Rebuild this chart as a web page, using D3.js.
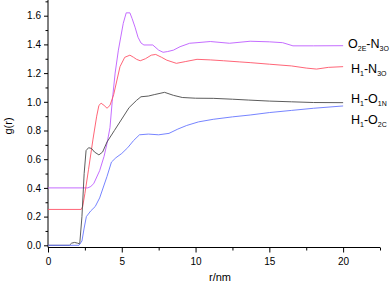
<!DOCTYPE html>
<html>
<head>
<meta charset="utf-8">
<script src="https://cdn.jsdelivr.net/npm/d3@7"></script>
<style>
  body { margin: 0; background: #fff; }
  svg { display: block; font-family: Arial, "Liberation Sans", sans-serif; }
</style>
</head>
<body>
<div id="display"><svg width="392" height="283"></svg></div>
<script>
// g(r) curves as [r, g] pairs
var h1O1N = [[0,0],[1.45,0],[1.6,0.015],[1.8,0.02],[2.0,0.015],[2.15,0.01],[2.3,0.2],[2.45,0.5],[2.58,0.66],
  [2.75,0.68],[2.95,0.675],[3.15,0.65],[3.45,0.63],[3.7,0.65],[4.0,0.72],[4.5,0.8],[5.0,0.88],[5.5,0.96],
  [6.0,1.01],[6.3,1.035],[6.8,1.04],[7.2,1.05],[7.9,1.066],[8.5,1.045],[9.1,1.03],[10,1.025],[11.2,1.024],
  [12.5,1.018],[13.6,1.012],[15,1.005],[16.5,1.0],[18,0.995],[20,0.994]];
var h1O2C = [[0,0],[2.1,0],[2.3,0.03],[2.45,0.12],[2.6,0.2],[2.9,0.24],[3.2,0.27],[3.5,0.33],[3.8,0.42],
  [4.0,0.48],[4.3,0.58],[4.6,0.61],[5.0,0.64],[5.4,0.68],[5.8,0.73],[6.2,0.77],[6.8,0.775],[7.5,0.77],
  [8.2,0.78],[8.8,0.81],[9.4,0.835],[10.2,0.86],[11.2,0.878],[12.5,0.895],[13.7,0.908],[15,0.925],
  [16.5,0.94],[18,0.955],[20,0.971]];
var h1N3O = [[0,0.25],[2.25,0.25],[2.35,0.27],[2.5,0.36],[2.75,0.53],[3.05,0.74],[3.3,0.9],[3.45,0.975],
  [3.6,0.99],[3.8,0.975],[4.0,0.955],[4.2,0.975],[4.45,1.05],[4.88,1.245],[5.2,1.31],[5.55,1.325],
  [5.8,1.31],[6.0,1.296],[6.25,1.286],[6.6,1.3],[7.0,1.325],[7.3,1.33],[7.7,1.31],[8.05,1.29],[8.7,1.268],
  [9.3,1.28],[10.1,1.296],[11,1.292],[11.9,1.286],[13,1.278],[13.7,1.273],[15,1.262],[16.5,1.25],
  [17.5,1.235],[18.2,1.228],[19,1.24],[20,1.245]];
var o2EN3O = [[0,0.4],[2.7,0.4],[2.9,0.41],[3.1,0.43],[3.5,0.52],[3.8,0.62],[4.0,0.71],[4.2,0.82],
  [4.35,1.0],[4.55,1.2],[4.77,1.36],[5.1,1.547],[5.3,1.62],[5.55,1.62],[5.7,1.58],[5.9,1.52],[6.1,1.45],
  [6.3,1.41],[6.5,1.396],[7.1,1.396],[7.5,1.36],[7.8,1.345],[8.1,1.35],[8.5,1.36],[8.95,1.384],[9.6,1.408],
  [10.1,1.412],[11,1.42],[12.3,1.408],[13.7,1.422],[15,1.418],[15.9,1.412],[16.6,1.39],[18,1.39],[20,1.391]];

var xTicks = [0, 5, 10, 15, 20];
var xMinor = [2.5, 7.5, 12.5, 17.5, 22.5];
var yTicks = [0, 0.2, 0.4, 0.6, 0.8, 1.0, 1.2, 1.4, 1.6];
var yMinor = [0.1, 0.3, 0.5, 0.7, 0.9, 1.1, 1.3, 1.5, 1.7];

var series = [
  { data: o2EN3O, color: "#bd5cff", label: ["O", "2E", "-N", "3O"], lx: 348, ly: 47.5 },
  { data: h1N3O,  color: "#ff5468", label: ["H", "1", "-N", "3O"],  lx: 351, ly: 72.5 },
  { data: h1O1N,  color: "#4a4a4a", label: ["H", "1", "-O", "1N"], lx: 351, ly: 103 },
  { data: h1O2C,  color: "#6676ff", label: ["H", "1", "-O", "2C"], lx: 351, ly: 124 }
];

var svg = d3.select("#display svg");
var x = d3.scaleLinear().domain([0, 22.5]).range([48, 380]);
var y = d3.scaleLinear().domain([0, 1.6]).range([245.3, 15.7]);
var yBottom = 247.5;

// minor ticks first, then major
svg.append("g").attr("transform", "translate(0," + yBottom + ")")
  .call(d3.axisBottom(x).tickValues(xMinor).tickFormat("").tickSize(3).tickSizeOuter(0))
  .call(function(g) { g.select(".domain").remove(); });
svg.append("g").attr("transform", "translate(48,0)")
  .call(d3.axisLeft(y).tickValues(yMinor).tickFormat("").tickSize(2.5).tickSizeOuter(0))
  .call(function(g) { g.select(".domain").remove(); });

var xa = svg.append("g").attr("transform", "translate(0," + yBottom + ")")
  .call(d3.axisBottom(x).tickValues(xTicks).tickFormat(d3.format("d")).tickSize(5).tickPadding(5).tickSizeOuter(0));
xa.select(".domain").attr("d", "M48,0H380");
var ya = svg.append("g").attr("transform", "translate(48,0)")
  .call(d3.axisLeft(y).tickValues(yTicks).tickFormat(d3.format(".1f")).tickSize(4).tickPadding(3).tickSizeOuter(0));
ya.select(".domain").attr("d", "M0,0V" + yBottom);
svg.selectAll(".tick text").attr("font-size", "10px").attr("font-family", "Arial, 'Liberation Sans', sans-serif").attr("fill", "#000");

svg.append("text").text("r/nm")
  .attr("x", 220).attr("y", 281).attr("text-anchor", "middle").attr("font-size", "11px");
svg.append("text").text("g(r)")
  .attr("transform", "translate(12,126) rotate(-90)").attr("text-anchor", "middle").attr("font-size", "11px");

var line = d3.line().x(function(d) { return x(d[0]); }).y(function(d) { return y(d[1]); });
svg.selectAll("path.curve").data(series).enter().append("path")
  .attr("class", "curve")
  .attr("d", function(s) { return line(s.data); })
  .attr("fill", "none").attr("stroke", function(s) { return s.color; })
  .attr("stroke-width", 0.9).attr("stroke-linejoin", "round");

// labels with subscripts
series.forEach(function(s) {
  var t = svg.append("text").attr("x", s.lx).attr("y", s.ly).attr("font-size", "12.5px").attr("fill", "#000");
  t.append("tspan").text(s.label[0]);
  t.append("tspan").text(s.label[1]).attr("font-size", "7px").attr("dy", 3);
  t.append("tspan").text(s.label[2]).attr("dy", -3);
  t.append("tspan").text(s.label[3]).attr("font-size", "7px").attr("dy", 3);
});
</script>
</body>
</html>
